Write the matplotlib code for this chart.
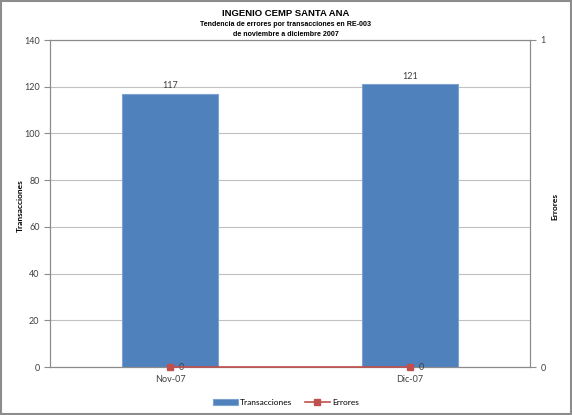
import matplotlib
matplotlib.use("Agg")
import matplotlib.pyplot as plt
from matplotlib.patches import Rectangle

categories = ["Nov-07", "Dic-07"]
transacciones = [117, 121]
errores = [0, 0]
left_ticks = [0, 20, 40, 60, 80, 100, 120, 140]
right_ticks = [0, 1]

plt.rcParams['font.family'] = ['Lato', 'DejaVu Sans']

fig = plt.figure(figsize=(5.72, 4.15), dpi=100)
fig.patches.append(Rectangle((0.002, 0.002), 0.996, 0.996, transform=fig.transFigure,
                             fill=False, edgecolor='#8c8c8c', linewidth=1.5))

ax = fig.add_axes([50/572, 48/415, 480/572, 327/415])
x = list(range(len(categories)))
bars = ax.bar(x, transacciones, width=0.4, color='#4F81BD', edgecolor='#7ea3d1', linewidth=0.8,
              zorder=3, label='Transacciones')
for xi, v in zip(x, transacciones):
    ax.text(xi, v + 1.5, str(v), ha='center', va='bottom', fontsize=6.5, color='#404040')
ax.set_xlim(-0.5, 1.5)
ax.set_ylim(0, 140)
ax.set_yticks(left_ticks)
ax.set_xticks(x)
ax.set_xticklabels(categories)
ax.tick_params(axis='y', labelsize=6.5, colors='#404040', length=4, color='#8c8c8c', direction='out')
ax.tick_params(axis='x', labelsize=6.5, colors='#404040', length=0, pad=6)
ax.yaxis.grid(True, color='#c0c0c0', linewidth=0.8, zorder=0)
ax.set_axisbelow(True)
for s in ax.spines.values():
    s.set_color('#8c8c8c')
    s.set_linewidth(0.8)

ax2 = ax.twinx()
line, = ax2.plot(x, errores, color='#C0504D', marker='s', markersize=4.5, linewidth=1.2,
                 clip_on=False, zorder=5, label='Errores')
for xi, v in zip(x, errores):
    ax2.text(xi + 0.035, v, str(v), ha='left', va='center', fontsize=6.5, color='#404040')
ax2.set_ylim(0, 1)
ax2.set_yticks(right_ticks)
ax2.tick_params(axis='y', labelsize=6.5, colors='#404040', length=4, color='#8c8c8c', direction='out')
for s in ax2.spines.values():
    s.set_color('#8c8c8c')
    s.set_linewidth(0.8)

fig.text(20/572, 1 - 206/415, 'Transacciones', rotation=90, ha='center', va='center',
         fontsize=6, fontweight='bold')
fig.text(555/572, 1 - 206/415, 'Errores', rotation=90, ha='center', va='center',
         fontsize=6, fontweight='bold')

tfam = ['Liberation Sans', 'DejaVu Sans']
fig.text(0.5, 1 - 13/415, 'INGENIO CEMP SANTA ANA', ha='center', va='center',
         fontsize=6.8, fontweight='bold', family=tfam)
fig.text(0.5, 1 - 24.5/415, 'Tendencia de errores por transacciones en RE-003', ha='center', va='center',
         fontsize=5.1, fontweight='bold', family=tfam)
fig.text(0.5, 1 - 34.5/415, 'de noviembre a diciembre 2007', ha='center', va='center',
         fontsize=5.1, fontweight='bold', family=tfam)

fig.legend([bars, line], ['Transacciones', 'Errores'], loc='center', bbox_to_anchor=(0.5, 1 - 402/415),
           ncol=2, frameon=False, fontsize=6, handlelength=3, columnspacing=1.5, handletextpad=0.3)

fig.savefig('out.png', dpi=100)
